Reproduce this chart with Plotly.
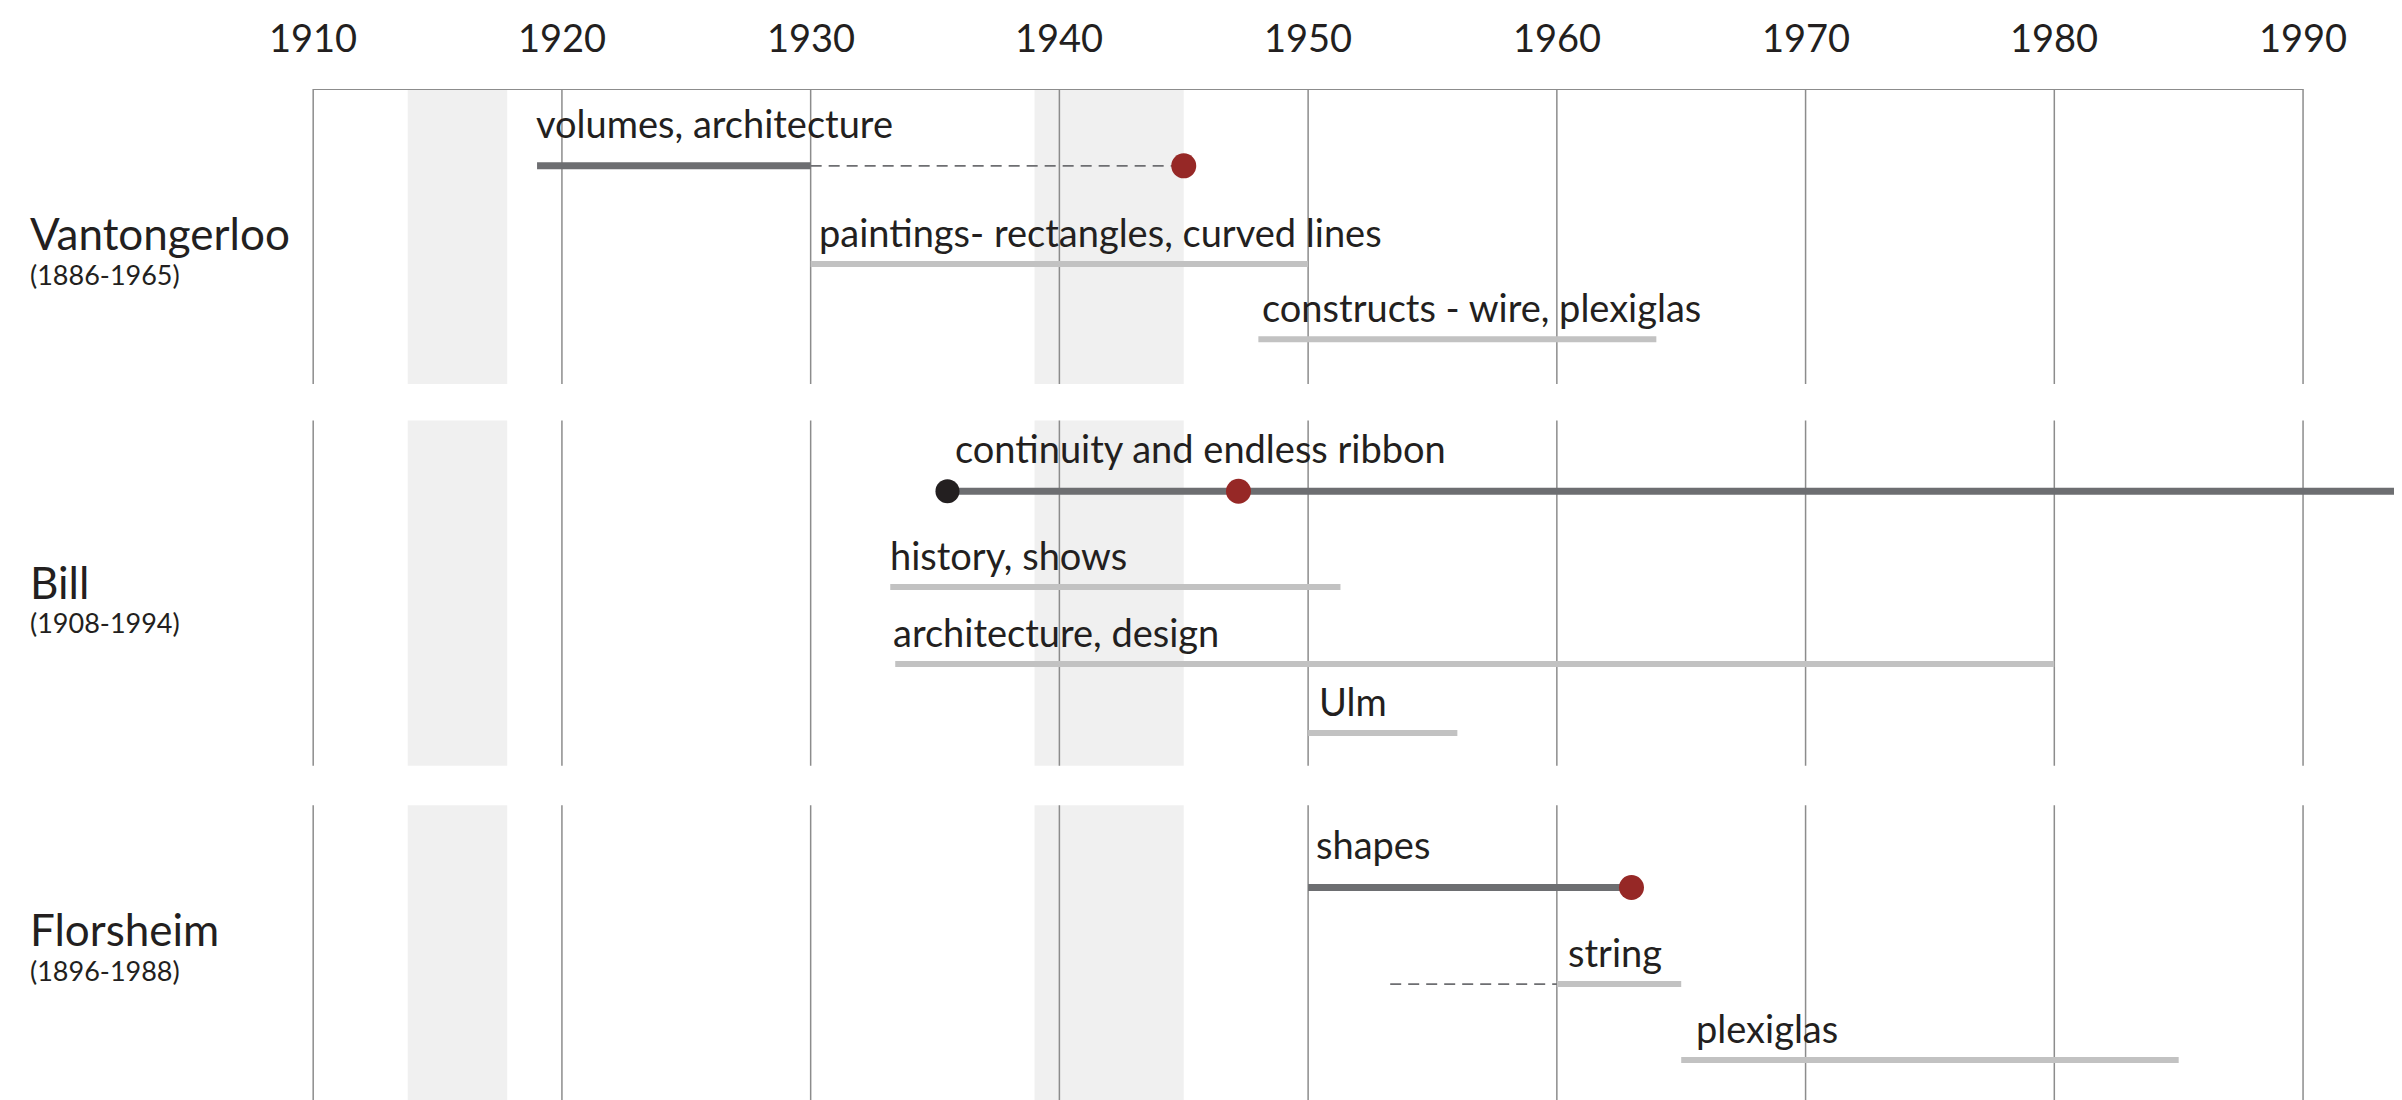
import plotly.graph_objects as go

# ---------------- data ----------------
years = [1910, 1920, 1930, 1940, 1950, 1960, 1970, 1980, 1990]
tick_labels = ["1910", "1920", "1930", "1940", "1950", "1960", "1970", "1980", "1990"]

artists = ["Vantongerloo", "Bill", "Florsheim"]
lifespans = ["(1886-1965)", "(1908-1994)", "(1896-1988)"]
name_lanes = [2.97, 7.55, 12.12]

act_labels = [
    "volumes, architecture",
    "paintings- rectangles, curved lines",
    "constructs - wire, plexiglas",
    "continuity and endless ribbon",
    "history, shows",
    "architecture, design",
    "Ulm",
    "shapes",
    "string",
    "plexiglas",
]
act_start = [1919, 1930, 1948, 1935.5, 1933.2, 1933.4, 1950, 1950, 1960, 1965]
act_end = [1930, 1950, 1964, 1994, 1951.3, 1980, 1956, 1963, 1965, 1985]
act_major = [True, False, False, True, False, False, False, True, False, False]
act_lane = [2.08, 3.37, 4.36, 6.36, 7.62, 8.63, 9.54, 11.57, 12.84, 13.84]

dash_start = [1930, 1953.3]
dash_end = [1945, 1960]
dash_lane = [2.08, 12.84]

red_x = [1945, 1947.2, 1963]
red_lane = [2.08, 6.36, 11.57]
black_x = [1935.5]
black_lane = [6.36]

war_start = [1913.8, 1939]
war_end = [1917.8, 1945]

# ---------------- layout helpers ----------------
section_top = [1.07, 5.43, 10.49]
section_bottom = [4.95, 9.97, 14.47]
label_xshift = [-3, 6, 2, 6, -2, -4, 9, 6, 9, 13]

TEXT = "#231f20"
DARK = "#6d6e71"
LIGHT = "#c2c2c2"
RED = "#962826"
GRID = "#8c8c8c"
BAND = "#f0f0f0"
FONT = "Lato"

fig = go.Figure()


def seg_xy(starts, ends, lanes):
    xs, ys = [], []
    for s, e, l in zip(starts, ends, lanes):
        xs += [s, e, None]
        ys += [l, l, None]
    return xs, ys


maj = [i for i, m in enumerate(act_major) if m]
mino = [i for i, m in enumerate(act_major) if not m]

x, y = seg_xy([act_start[i] for i in mino], [act_end[i] for i in mino], [act_lane[i] for i in mino])
fig.add_trace(go.Scatter(x=x, y=y, mode="lines", line=dict(color=LIGHT, width=6), hoverinfo="skip"))

x, y = seg_xy(dash_start, dash_end, dash_lane)
fig.add_trace(go.Scatter(x=x, y=y, mode="lines", line=dict(color=DARK, width=1.8, dash="11px,7px"), hoverinfo="skip"))

x, y = seg_xy([act_start[i] for i in maj], [act_end[i] for i in maj], [act_lane[i] for i in maj])
fig.add_trace(go.Scatter(x=x, y=y, mode="lines", line=dict(color=DARK, width=7), hoverinfo="skip"))

fig.add_trace(go.Scatter(x=red_x, y=red_lane, mode="markers",
                         marker=dict(color=RED, size=25, line=dict(width=0)), hoverinfo="skip"))
fig.add_trace(go.Scatter(x=black_x, y=black_lane, mode="markers",
                         marker=dict(color=TEXT, size=24, line=dict(width=0)), hoverinfo="skip"))

shapes = []
for top, bot in zip(section_top, section_bottom):
    for ws, we in zip(war_start, war_end):
        shapes.append(dict(type="rect", xref="x", yref="y", x0=ws, x1=we, y0=top, y1=bot,
                           fillcolor=BAND, line=dict(width=0), layer="below"))
    for yr in years:
        shapes.append(dict(type="line", xref="x", yref="y", x0=yr, x1=yr, y0=top, y1=bot,
                           line=dict(color=GRID, width=1.5), layer="below"))
shapes.append(dict(type="line", xref="x", yref="y", x0=years[0], x1=years[-1],
                   y0=section_top[0], y1=section_top[0], line=dict(color=GRID, width=2), layer="below"))

annotations = []
# year labels along the top
for yr, tl in zip(years, tick_labels):
    annotations.append(dict(x=yr, y=1, xref="x", yref="paper", text=tl, showarrow=False,
                            xanchor="center", yanchor="middle", yshift=52,
                            font=dict(family=FONT, size=38, color=TEXT)))
for i, lab in enumerate(act_labels):
    annotations.append(dict(x=act_start[i], y=act_lane[i], xref="x", yref="y", text=lab,
                            showarrow=False, xanchor="left", yanchor="bottom",
                            xshift=label_xshift[i], yshift=18 if act_major[i] else 7,
                            font=dict(family=FONT, size=38, color=TEXT)))
for name, life, nl in zip(artists, lifespans, name_lanes):
    annotations.append(dict(x=0, y=nl, xref="paper", yref="y", text=name, showarrow=False,
                            xanchor="left", yanchor="middle", xshift=20,
                            font=dict(family=FONT, size=44, color=TEXT)))
    annotations.append(dict(x=0, y=nl, xref="paper", yref="y", text=life, showarrow=False,
                            xanchor="left", yanchor="middle", xshift=20, yshift=-41,
                            font=dict(family=FONT, size=27, color=TEXT)))

fig.update_layout(
    width=2402, height=1100,
    margin=dict(l=0, r=0, t=81, b=0),
    paper_bgcolor="white", plot_bgcolor="white",
    showlegend=False,
    shapes=shapes, annotations=annotations,
    xaxis=dict(range=[1897.73, 1994.3], showticklabels=False,
               showgrid=False, zeroline=False, showline=False, ticks="",
               fixedrange=True),
    yaxis=dict(range=[14.47, 1.07], visible=False, fixedrange=True),
)

fig.write_html("out.html")
